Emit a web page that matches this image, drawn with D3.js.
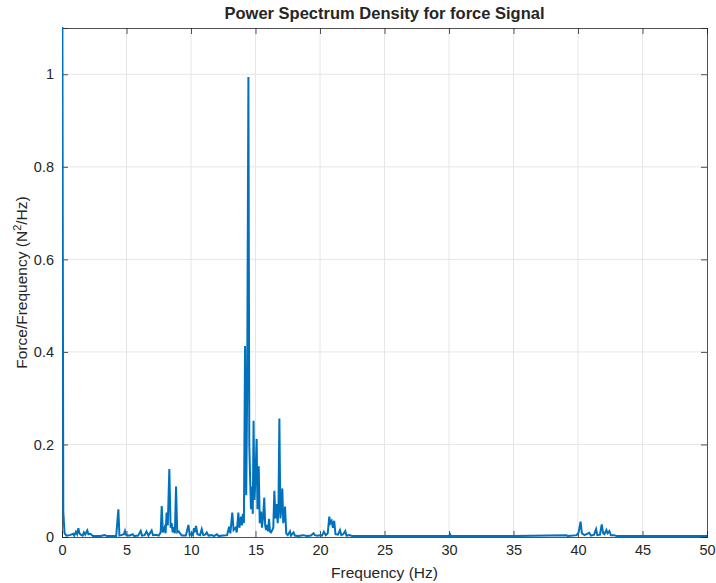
<html lang="en">
<head>
  <script src="https://d3js.org/d3.v7.min.js"></script>
  <style>
    body { margin: 0; background: #fff; }
    text { font-family: "Liberation Sans", Arial, sans-serif; fill: #262626; }
    .grid line { stroke: #e6e6e6; stroke-width: 1px; }
    .psd { fill: none; stroke: #0072bd; stroke-width: 2px; stroke-linejoin: miter; }
  </style>
</head>
<body>
  <svg width="716" height="583" id="chart"></svg>
  <script>
    // data (Hz, N^2/Hz)
    const freqHz = [0, 0.1, 0.2, 0.35, 0.6, 0.88, 0.95, 1.08, 1.17, 1.27, 1.35, 1.45, 1.6, 1.7, 1.8, 1.96, 2.05, 2.2, 2.4, 3.0, 3.3, 3.5, 4.2, 4.37, 4.45, 4.6, 4.8, 4.88, 4.95, 5.2, 5.48, 5.6, 5.9, 6.1, 6.2, 6.4, 6.55, 6.7, 6.95, 7.05, 7.3, 7.5, 7.65, 7.73, 7.82, 7.95, 8.03, 8.11, 8.2, 8.32, 8.42, 8.5, 8.58, 8.65, 8.75, 8.84, 8.93, 9.05, 9.15, 9.3, 9.6, 9.8, 9.9, 10.05, 10.15, 10.23, 10.3, 10.39, 10.5, 10.7, 10.83, 10.95, 11.1, 11.22, 11.35, 11.6, 11.8, 12.0, 12.15, 12.5, 12.8, 12.95, 13.05, 13.2, 13.3, 13.45, 13.55, 13.67, 13.75, 13.88, 13.95, 14.02, 14.1, 14.19, 14.28, 14.35, 14.45, 14.52, 14.57, 14.65, 14.74, 14.79, 14.85, 14.92, 15.0, 15.09, 15.15, 15.25, 15.33, 15.43, 15.5, 15.58, 15.68, 15.75, 15.82, 15.9, 15.97, 16.05, 16.12, 16.2, 16.3, 16.38, 16.46, 16.55, 16.64, 16.72, 16.78, 16.85, 16.93, 17.0, 17.08, 17.15, 17.22, 17.29, 17.38, 17.5, 17.67, 17.75, 17.95, 18.05, 18.3, 18.7, 19.0, 19.3, 19.5, 19.6, 19.8, 20.0, 20.15, 20.3, 20.45, 20.6, 20.72, 20.8, 20.9, 21.0, 21.1, 21.2, 21.4, 21.55, 21.65, 21.8, 21.96, 22.05, 22.3, 22.5, 25.0, 27.0, 30.0, 30.08, 30.15, 35.0, 39.1, 39.2, 39.6, 39.9, 40.05, 40.2, 40.3, 40.5, 40.88, 41.0, 41.25, 41.4, 41.5, 41.7, 41.84, 41.95, 42.05, 42.2, 42.3, 42.43, 42.55, 42.8, 43.0, 45.0, 50.0];
    const psdVal = [1.6, 0.055, 0.008, 0.003, 0.004, 0.007, 0.003, 0.011, 0.006, 0.019, 0.008, 0.005, 0.003, 0.01, 0.005, 0.014, 0.006, 0.007, 0.002, 0.002, 0.004, 0.002, 0.002, 0.06, 0.003, 0.004, 0.006, 0.013, 0.005, 0.003, 0.006, 0.002, 0.003, 0.013, 0.003, 0.004, 0.012, 0.003, 0.014, 0.004, 0.005, 0.003, 0.01, 0.067, 0.01, 0.02, 0.008, 0.053, 0.025, 0.147, 0.02, 0.03, 0.01, 0.021, 0.008, 0.109, 0.01, 0.012, 0.008, 0.003, 0.003, 0.026, 0.004, 0.008, 0.004, 0.019, 0.01, 0.024, 0.006, 0.004, 0.017, 0.004, 0.005, 0.01, 0.003, 0.004, 0.002, 0.006, 0.002, 0.003, 0.004, 0.022, 0.008, 0.053, 0.015, 0.02, 0.01, 0.053, 0.02, 0.044, 0.025, 0.05, 0.03, 0.413, 0.09, 0.3, 0.994, 0.2, 0.141, 0.06, 0.109, 0.05, 0.251, 0.08, 0.13, 0.212, 0.06, 0.153, 0.03, 0.055, 0.02, 0.04, 0.085, 0.025, 0.015, 0.026, 0.012, 0.039, 0.012, 0.01, 0.015, 0.02, 0.1, 0.04, 0.071, 0.03, 0.06, 0.256, 0.04, 0.06, 0.105, 0.03, 0.04, 0.066, 0.008, 0.004, 0.012, 0.003, 0.01, 0.003, 0.002, 0.004, 0.002, 0.003, 0.008, 0.004, 0.003, 0.004, 0.003, 0.011, 0.004, 0.008, 0.044, 0.03, 0.035, 0.02, 0.035, 0.006, 0.005, 0.015, 0.004, 0.006, 0.013, 0.003, 0.004, 0.002, 0.002, 0.002, 0.002, 0.006, 0.002, 0.002, 0.004, 0.002, 0.003, 0.004, 0.01, 0.033, 0.008, 0.004, 0.009, 0.003, 0.005, 0.017, 0.004, 0.005, 0.027, 0.008, 0.006, 0.015, 0.008, 0.013, 0.004, 0.004, 0.002, 0.002, 0.002];
    const xTicks = [0, 5, 10, 15, 20, 25, 30, 35, 40, 45, 50];
    const yTicks = [0, 0.2, 0.4, 0.6, 0.8, 1];

    const svg = d3.select("svg#chart");
    const margin = {left: 62, right: 9, top: 28, bottom: 46};
    const W = 716 - margin.left - margin.right;
    const H = 583 - margin.top - margin.bottom;

    const x = d3.scaleLinear().domain([0, 50]).range([0, W]);
    const y = d3.scaleLinear().domain([0, 1.1]).range([H, 0]);

    const g = svg.append("g").attr("transform", "translate(" + margin.left + "," + margin.top + ")");

    // grid
    const grid = g.append("g").attr("class", "grid");
    grid.selectAll(".gx").data(xTicks.slice(1, -1)).enter().append("line")
      .attr("x1", d => x(d)).attr("x2", d => x(d)).attr("y1", 0).attr("y2", H);
    grid.selectAll(".gy").data(yTicks.slice(1)).enter().append("line")
      .attr("x1", 0).attr("x2", W).attr("y1", d => y(d)).attr("y2", d => y(d));

    g.append("clipPath").attr("id", "clip").append("rect")
      .attr("x", 0).attr("y", -1).attr("width", W).attr("height", H + 1);

    const pts = freqHz.map((f, i) => [f, psdVal[i]]);
    const line = d3.line().x(d => x(d[0])).y(d => y(d[1]));

    // axes (MATLAB style: ticks inward, box on)
    const tickLen = 6;
    const axCol = "#262626";
    const xAx = g.append("g").attr("transform", "translate(0," + H + ")")
      .call(d3.axisBottom(x).tickValues(xTicks).tickSize(-tickLen).tickPadding(8).tickFormat(d3.format("d")));
    const yAx = g.append("g")
      .call(d3.axisLeft(y).tickValues(yTicks).tickSize(-tickLen).tickPadding(8).tickFormat(d => d === 0 || d === 1 ? d : d3.format(".1f")(d)));
    const xTop = g.append("g")
      .call(d3.axisTop(x).tickValues(xTicks).tickSize(-tickLen).tickFormat(""));
    const yRight = g.append("g").attr("transform", "translate(" + W + ",0)")
      .call(d3.axisRight(y).tickValues(yTicks).tickSize(-tickLen).tickFormat(""));
    [xAx, yAx, xTop, yRight].forEach(a => {
      a.selectAll("path").attr("stroke", axCol).attr("stroke-width", 0.8);
      a.selectAll("line").attr("stroke", axCol).attr("stroke-width", 0.8);
      a.selectAll("text").attr("font-size", 14.5).attr("fill", axCol)
        .style("font-family", "'Liberation Sans', Arial, sans-serif");
    });

    g.append("path").datum(pts).attr("class", "psd")
      .attr("clip-path", "url(#clip)").attr("d", line);

    svg.append("text").attr("x", margin.left + W / 2).attr("y", 19)
      .attr("text-anchor", "middle").attr("font-size", 16.5).attr("font-weight", "bold")
      .attr("fill", "#000").text("Power Spectrum Density for force Signal");

    svg.append("text").attr("x", margin.left + W / 2).attr("y", 578)
      .attr("text-anchor", "middle").attr("font-size", 15.5)
      .text("Frequency (Hz)");

    const yl = svg.append("text")
      .attr("transform", "translate(27," + (margin.top + H / 2) + ") rotate(-90)")
      .attr("text-anchor", "middle").attr("font-size", 15.5);
    yl.append("tspan").text("Force/Frequency (N");
    yl.append("tspan").attr("font-size", 11).attr("dy", -6).text("2");
    yl.append("tspan").attr("dy", 6).text("/Hz)");
  </script>
</body>
</html>
